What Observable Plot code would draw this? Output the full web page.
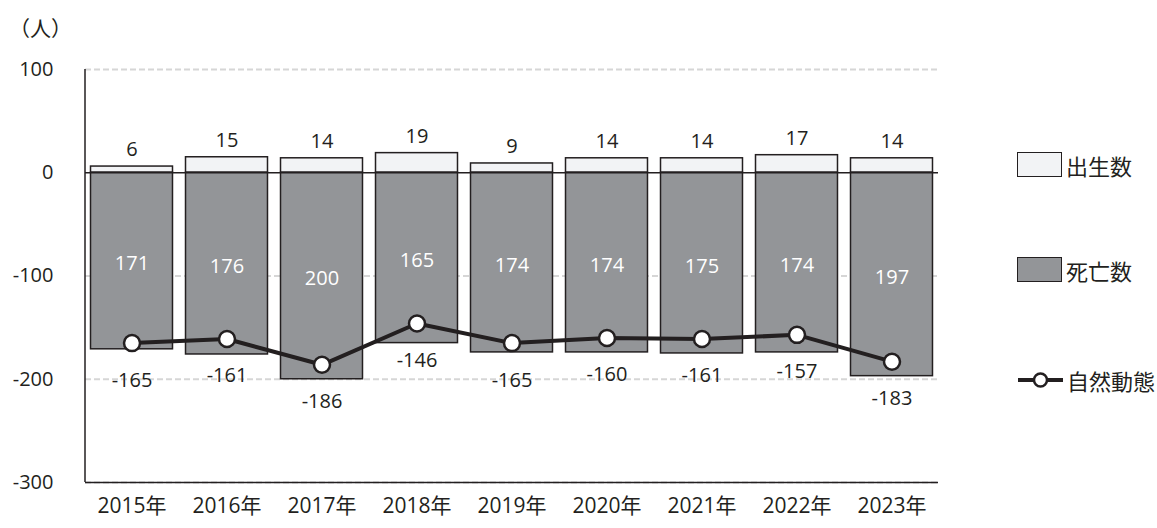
<!DOCTYPE html>
<html><head><meta charset="utf-8">
<script src="https://cdn.jsdelivr.net/npm/d3@7"></script>
<script src="https://cdn.jsdelivr.net/npm/@observablehq/plot@0.6"></script>
<style>
body{margin:0;background:#fff;font-family:"Open Sans","Noto Sans CJK JP",sans-serif;}
#wrap{position:relative;width:1157px;height:528px;}
.unit{position:absolute;left:9px;top:12px;font-size:21px;color:#231f20;font-family:"Noto Sans CJK JP",sans-serif;}
.leg{position:absolute;left:1017px;font-size:22px;color:#231f20;display:flex;align-items:center;font-family:"Noto Sans CJK JP",sans-serif;line-height:1;}
.box{width:45px;height:25px;border:1.5px solid #231f20;box-sizing:border-box;margin-right:4px;}
</style></head>
<body><div id="wrap"></div>
<script>
const years = ["2015年","2016年","2017年","2018年","2019年","2020年","2021年","2022年","2023年"];
const births = [6,15,14,19,9,14,14,17,14];
const deaths = [171,176,200,165,174,174,175,174,197];
const natural = [-165,-161,-186,-146,-165,-160,-161,-157,-183];
const yTicks = [100,0,-100,-200,-300];
const gridVals = [100,-100,-200,-300];

const data = years.map((y,i)=>({year:y, births:births[i], deaths:-deaths[i], deathsAbs:deaths[i], natural:natural[i]}));
const font = '"Open Sans","Noto Sans CJK JP",sans-serif';
const ink = "#231f20";

const leftAxisLine = (index, scales, values, dims) => {
  const l = d3.create("svg:line")
    .attr("x1", dims.marginLeft).attr("x2", dims.marginLeft)
    .attr("y1", scales.y(100)).attr("y2", scales.y(-300))
    .attr("stroke", ink).attr("stroke-width", 1.5);
  return l.node();
};

const chart = Plot.plot({
  width:1157, height:528,
  marginLeft:85, marginRight:219, marginTop:69, marginBottom:46,
  style:{fontFamily:font, fontSize:"20px", color:ink, background:"#fff"},
  x:{domain:years, paddingInner:0.137, paddingOuter:0.058, round:false, label:null},
  y:{domain:[-300,100], label:null},
  marks:[
    Plot.ruleY(gridVals,{stroke:"#d6d6d6", strokeWidth:2, strokeDasharray:"6,3"}),
    Plot.barY(data,{x:"year", y:"births", fill:"#f2f3f5", stroke:ink, strokeWidth:1.5}),
    Plot.barY(data,{x:"year", y:"deaths", fill:"#939598", stroke:ink, strokeWidth:1.5}),
    Plot.ruleY([0],{stroke:ink, strokeWidth:1.5}),
    Plot.ruleY([-300],{stroke:ink, strokeWidth:1.5}),
    leftAxisLine,
    Plot.text(data,{x:"year", y:"births", text:d=>String(d.births), dy:-17, fill:ink, fontSize:20}),
    Plot.text(data,{x:"year", y:d=>d.deaths/2, text:d=>String(d.deathsAbs), fill:"#fff", fontSize:20, dy:3}),
    Plot.line(data,{x:"year", y:"natural", stroke:ink, strokeWidth:4}),
    Plot.dot(data,{x:"year", y:"natural", r:8, fill:"#fff", stroke:ink, strokeWidth:2.5}),
    Plot.text(data,{x:"year", y:"natural", text:d=>String(d.natural), dy:37, fill:ink, fontSize:20}),
    Plot.axisY({ticks:yTicks, tickSize:0, tickPadding:32, fontSize:20, tickFormat:d=>String(d)}),
    Plot.axisX({tickSize:0, tickPadding:16, fontSize:21})
  ]
});
const wrap = document.getElementById("wrap");
wrap.appendChild(chart);
wrap.insertAdjacentHTML("beforeend",`
<div class="unit">（人）</div>
<div class="leg" style="top:152px"><div class="box" style="background:#f2f3f5"></div>出生数</div>
<div class="leg" style="top:257px"><div class="box" style="background:#939598"></div>死亡数</div>
<div class="leg" style="top:368px"><svg width="47" height="24" style="margin-right:3px"><line x1="1" y1="12" x2="46" y2="12" stroke="${ink}" stroke-width="4"/><circle cx="23.5" cy="12" r="6.5" fill="#fff" stroke="${ink}" stroke-width="2.5"/></svg>自然動態</div>
`);
</script></body></html>
